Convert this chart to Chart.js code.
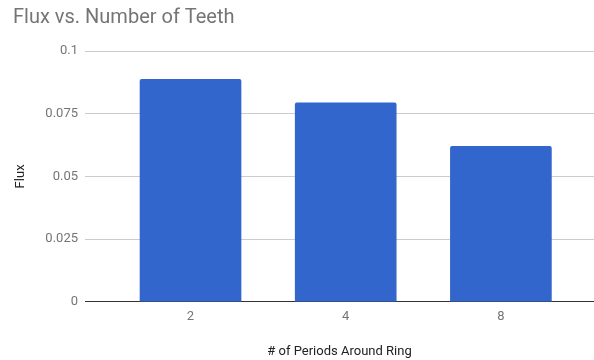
<!DOCTYPE html>
<html>
<head>
<meta charset="utf-8">
<script src="https://cdn.jsdelivr.net/npm/chart.js@4.4.0/dist/chart.umd.min.js"></script>
<style>
  html, body { margin: 0; padding: 0; background: #fff; }
  #wrap { width: 594px; height: 360px; position: relative; }
</style>
</head>
<body>
<div id="wrap"><canvas id="fluxChart"></canvas></div>
<script>
// Number of teeth (periods around the ring) and measured flux
const periods = ["2", "4", "8"];
const flux = [0.0887, 0.0793, 0.062];
const yTicks = [0, 0.025, 0.05, 0.075, 0.1];

// Bars sit on a linear index axis so the plot can run wider than the bar groups
const points = flux.map((v, i) => ({ x: i, y: v }));

Chart.defaults.font.family = "Roboto, 'Noto Sans', sans-serif";

const ctx = document.getElementById("fluxChart").getContext("2d");
const fluxChart = new Chart(ctx, {
  type: "bar",
  data: {
    datasets: [
      {
        label: "Flux",
        data: points,
        backgroundColor: "#3366cc",
        borderRadius: { topLeft: 2, topRight: 2 },
        borderSkipped: "bottom",
        barThickness: 101,
      },
    ],
  },
  options: {
    responsive: true,
    maintainAspectRatio: false,
    animation: false,
    layout: { padding: { left: 13, right: 0, top: 0, bottom: 0 } },
    scales: {
      x: {
        type: "linear",
        offset: false,
        min: -0.68,
        max: 2.6,
        // let the gridlines run right up to the canvas edge
        afterFit: function (scale) {
          scale.paddingRight = 0;
        },
        grid: { display: false, drawTicks: false, offset: false },
        border: { display: false },
        ticks: {
          stepSize: 1,
          padding: 7,
          color: "#757575",
          font: { size: 13 },
          autoSkip: false,
          maxRotation: 0,
          callback: function (value) {
            return Number.isInteger(value) ? periods[value] : "";
          },
        },
        title: {
          display: true,
          text: "# of Periods Around Ring",
          color: "#222",
          font: { size: 13 },
          padding: { top: 13, bottom: 0 },
        },
      },
      y: {
        min: 0,
        max: 0.1,
        afterFit: function (scale) {
          scale.width = 72;
        },
        afterBuildTicks: function (scale) {
          scale.ticks = yTicks.map(v => ({ value: v }));
        },
        grid: {
          drawTicks: false,
          color: function (c) {
            return c.tick && c.tick.value === 0 ? "#333" : "#cccccc";
          },
        },
        border: { display: false },
        ticks: {
          padding: 7,
          color: "#757575",
          font: { size: 13 },
          callback: function (value) {
            return String(value);
          },
        },
        title: {
          display: true,
          text: "Flux",
          color: "#222",
          font: { size: 13 },
          padding: 0,
        },
      },
    },
    plugins: {
      legend: { display: false },
      tooltip: { enabled: false },
      title: {
        display: true,
        text: "Flux vs. Number of Teeth",
        align: "start",
        color: "#757575",
        font: { size: 20, weight: "normal" },
        padding: { top: 6, bottom: 21 },
      },
    },
  },
});
</script>
</body>
</html>
